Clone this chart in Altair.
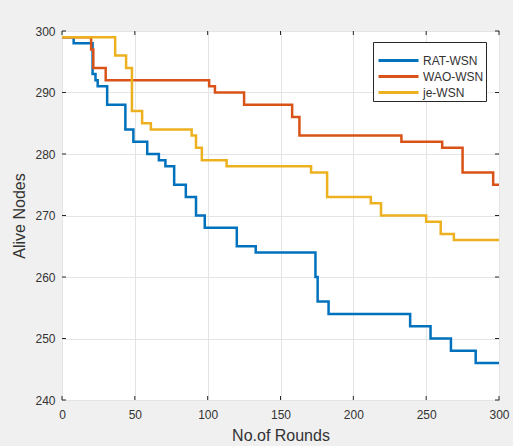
import altair as alt
import pandas as pd

series = ["RAT-WSN", "WAO-WSN", "je-WSN"]
colors = ["#0072BD", "#D95319", "#EDB120"]

# step change points (round where the new value starts, alive nodes)
rat_x = [0, 8, 21, 23, 24.5, 31, 43.5, 49, 58.5, 66.5, 71, 77, 85, 92, 98, 120, 133, 174, 175.5, 183, 239, 253, 267, 284, 300]
rat_y = [299, 298, 293, 292, 291, 288, 284, 282, 280, 279, 278, 275, 273, 270, 268, 265, 264, 260, 256, 254, 252, 250, 248, 246, 246]

wao_x = [0, 20, 21.5, 30, 101, 105, 125, 158, 163, 233, 261, 275, 296, 300]
wao_y = [299, 297, 294, 292, 291, 290, 288, 286, 283, 282, 281, 277, 275, 275]

je_x = [0, 36.5, 44, 48, 55, 61, 89, 92, 96, 113, 171, 182, 212, 219, 250, 260, 269, 300]
je_y = [299, 296, 294, 287, 285, 284, 283, 281, 279, 278, 277, 273, 272, 270, 269, 267, 266, 266]

x_ticks = [0, 50, 100, 150, 200, 250, 300]
y_ticks = [240, 250, 260, 270, 280, 290, 300]

W, H = 437, 369
FONT = "Liberation Sans"
INK = "#333333"

rows = []
for name, xs, ys in zip(series, [rat_x, wao_x, je_x], [rat_y, wao_y, je_y]):
    for i, (a, b) in enumerate(zip(xs, ys)):
        rows.append({"series": name, "round": a, "alive": b, "order": i})
df = pd.DataFrame(rows)

xscale = alt.Scale(domain=[0, 300], nice=False, zero=False)
yscale = alt.Scale(domain=[240, 300], nice=False, zero=False)

x_axis = alt.Axis(values=x_ticks, title="No.of Rounds", ticks=False, domain=False,
                  grid=True, gridColor="#e4e4e4", labelPadding=9, titlePadding=7,
                  labelFontSize=12, titleFontSize=16, labelFlush=False)
y_axis = alt.Axis(values=y_ticks, title="Alive Nodes", ticks=False, domain=False,
                  grid=True, gridColor="#e4e4e4", labelPadding=7, titlePadding=7,
                  labelFontSize=12, titleFontSize=16, labelFlush=False)

lines = alt.Chart(df).mark_line(interpolate="step-after", strokeWidth=2.5).encode(
    x=alt.X("round:Q", scale=xscale, axis=x_axis),
    y=alt.Y("alive:Q", scale=yscale, axis=y_axis),
    color=alt.Color("series:N", scale=alt.Scale(domain=series, range=colors),
                    legend=alt.Legend(title=" ", titleFontSize=5, titlePadding=2,
                                      orient="none", legendX=311, legendY=11,
                                      direction="vertical", symbolType="M-2.5,0H2.5", symbolSize=256,
                                      symbolStrokeWidth=3, symbolOffset=14, labelOffset=15,
                                      labelFontSize=12, labelFont=FONT, labelColor=INK,
                                      fillColor="white", strokeColor="#262626", padding=2,
                                      rowPadding=0, cornerRadius=0)),
    order="order:Q",
)

xt = pd.DataFrame({"round": x_ticks})
yt = pd.DataFrame({"alive": y_ticks})
tick = dict(color="#262626", strokeWidth=1)

bottom_ticks = alt.Chart(xt).mark_rule(**tick).encode(
    x=alt.X("round:Q", scale=xscale, axis=x_axis), y=alt.value(H), y2=alt.value(H - 4))
top_ticks = alt.Chart(xt).mark_rule(**tick).encode(
    x=alt.X("round:Q", scale=xscale, axis=x_axis), y=alt.value(0), y2=alt.value(4))
left_ticks = alt.Chart(yt).mark_rule(**tick).encode(
    y=alt.Y("alive:Q", scale=yscale, axis=y_axis), x=alt.value(0), x2=alt.value(4))
right_ticks = alt.Chart(yt).mark_rule(**tick).encode(
    y=alt.Y("alive:Q", scale=yscale, axis=y_axis), x=alt.value(W - 4), x2=alt.value(W))

chart = alt.layer(lines, bottom_ticks, top_ticks, left_ticks, right_ticks).properties(
    width=W, height=H,
    autosize=alt.AutoSizeParams(type="none"),
    padding={"left": 62, "top": 31, "right": 14, "bottom": 46},
    background="#f0f0f0",
).configure_view(
    stroke="#262626", strokeWidth=1, fill="white"
).configure_axis(
    labelFont=FONT, titleFont=FONT, labelColor=INK, titleColor=INK, titleFontWeight="normal"
)

chart.save("out.html", embed_options={"renderer": "svg", "actions": False})
